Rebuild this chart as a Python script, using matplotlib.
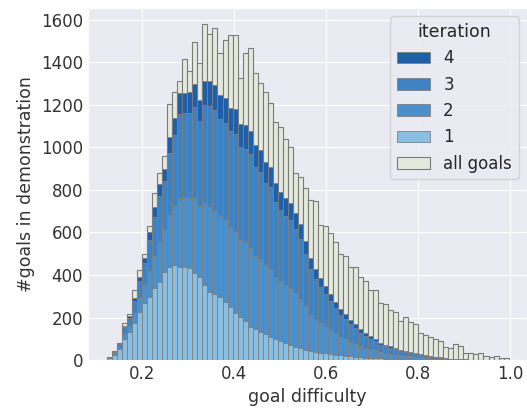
import matplotlib
matplotlib.use("Agg")
import matplotlib.pyplot as plt
import numpy as np
import seaborn as sns

# ---- data (counts per bin) ----
bin_start = 0.124
bin_width = 0.0109

all_goals = [16, 44, 82, 172, 216, 329, 424, 500, 631, 787,
             878, 960, 1203, 1260, 1313, 1415, 1360, 1498, 1396, 1581,
             1534, 1561, 1446, 1506, 1529, 1529, 1326, 1446, 1467, 1349,
             1301, 1263, 1210, 1120, 1097, 1038, 1000, 880, 863, 808,
             752, 748, 635, 630, 596, 555, 499, 489, 438, 436,
             392, 372, 330, 328, 266, 262, 236, 228, 184, 204,
             178, 170, 125, 118, 110, 97, 90, 63, 55, 75,
             66, 35, 35, 28, 35, 19, 14, 19, 9, 9]

iter1 = [8, 25, 50, 100, 130, 175, 225, 268, 298, 337,
         369, 416, 439, 447, 437, 439, 431, 408, 392, 353,
         322, 310, 295, 275, 251, 220, 204, 185, 157, 145,
         133, 122, 110, 97, 88, 78, 71, 63, 55, 47,
         43, 39, 35, 31, 28, 25, 22, 19, 17, 15,
         13, 11, 10, 9, 8, 7, 6, 5, 4, 4,
         3, 3, 2, 2, 2, 1, 1, 0, 0, 0,
         0, 0, 0, 0, 0, 0, 0, 0, 0, 0]

iter2 = [2, 6, 11, 24, 30, 46, 66, 85, 121, 153,
         184, 194, 244, 277, 327, 328, 333, 356, 333, 385,
         397, 394, 382, 383, 375, 384, 362, 368, 368, 346,
         342, 324, 320, 294, 282, 273, 266, 251, 234, 205,
         175, 156, 140, 128, 113, 100, 87, 78, 69, 61,
         53, 47, 41, 36, 30, 26, 23, 20, 18, 15,
         14, 12, 10, 8, 7, 6, 4, 4, 3, 2,
         2, 1, 1, 1, 0, 0, 0, 0, 0, 0]

iter3 = [2, 7, 13, 29, 36, 55, 79, 102, 145, 184,
         221, 232, 293, 333, 393, 393, 399, 428, 399, 462,
         477, 473, 458, 459, 450, 461, 435, 442, 442, 416,
         410, 389, 384, 352, 338, 328, 320, 301, 281, 246,
         210, 188, 167, 153, 135, 120, 105, 94, 83, 73,
         63, 56, 49, 43, 35, 31, 28, 25, 21, 18,
         17, 14, 13, 10, 8, 6, 5, 4, 3, 2,
         2, 2, 1, 1, 1, 1, 1, 0, 0, 0]

iter4 = [0, 2, 4, 7, 9, 14, 20, 25, 36, 46,
         56, 58, 74, 83, 98, 98, 100, 107, 100, 115,
         119, 119, 114, 115, 112, 115, 109, 111, 111, 104,
         103, 98, 96, 88, 84, 82, 80, 75, 70, 62,
         52, 47, 42, 38, 34, 30, 26, 24, 21, 19,
         16, 14, 12, 10, 9, 8, 7, 6, 5, 5,
         4, 4, 3, 3, 2, 2, 2, 1, 1, 1,
         0, 0, 0, 0, 0, 0, 0, 0, 0, 0]

iter_labels = ["1", "2", "3", "4"]
iter_colors = ["#88bfe3", "#4a90cc", "#3d82c2", "#1f5ea8"]

# ---- plot ----
sns.set_style("darkgrid")
plt.rcParams["font.family"] = ["DejaVu Sans"]

fig = plt.figure(figsize=(5.27, 4.08), dpi=100)
ax = fig.add_axes([0.167, 0.1176, 0.833, 0.8627])

n = len(all_goals)
edges = bin_start + bin_width * np.arange(n)

ax.bar(edges, all_goals, width=bin_width, align="edge", color="#e5e9dc",
       edgecolor="#7a7a7a", linewidth=0.8, label="all goals", zorder=2)

bottom = np.zeros(n)
for vals, lab, col in zip([iter1, iter2, iter3, iter4], iter_labels, iter_colors):
    ax.bar(edges, vals, width=bin_width, bottom=bottom, align="edge",
           color=col, edgecolor="#808080", linewidth=0.6, label=lab, zorder=3)
    bottom = bottom + np.array(vals)

ax.set_xlim(0.0826, 1.036)
ax.set_ylim(0, 1656)
ax.set_xticks([0.2, 0.4, 0.6, 0.8, 1.0])
ax.set_yticks(range(0, 1601, 200))
ax.tick_params(labelsize=12, colors="#333333", length=0)
ax.set_xlabel("goal difficulty", fontsize=12.5, color="#333333")
ax.set_ylabel("#goals in demonstration", fontsize=12.5, color="#333333")

h_all, l_all = ax.get_legend_handles_labels()
lookup = dict(zip(l_all, h_all))
order = ["4", "3", "2", "1", "all goals"]
ax.legend([lookup[k] for k in order], order, title="iteration", loc="upper right",
          fontsize=12, title_fontsize=12.5, frameon=True)

plt.savefig("out.png", dpi=100)
